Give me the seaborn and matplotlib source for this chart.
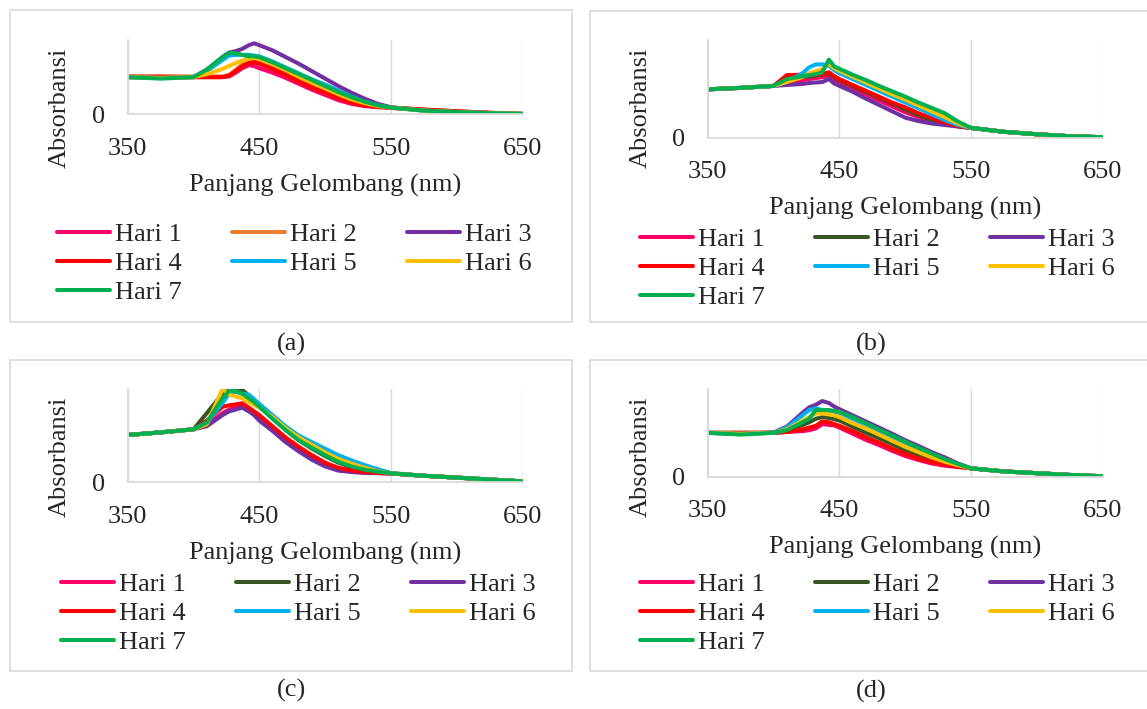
import matplotlib.pyplot as plt
import pandas as pd
import seaborn as sns
from matplotlib.patches import Rectangle

W, H = 1147, 709

# wavelength grid (nm) shared by all four panels
WAVELENGTH = [350, 375, 400, 410, 422, 427, 432, 437, 442, 446, 450, 460, 470,
              480, 490, 500, 510, 520, 530, 540, 550, 575, 600, 625, 650]
SERIES = ["Hari 1", "Hari 2", "Hari 3", "Hari 4", "Hari 5", "Hari 6", "Hari 7"]

# (a)
PANEL_A = {
    "Hari 1": [0.51, 0.51, 0.50, 0.50, 0.50, 0.51, 0.56, 0.62, 0.66, 0.65, 0.62, 0.56, 0.49,
               0.41, 0.33, 0.26, 0.19, 0.14, 0.11, 0.095, 0.085, 0.06, 0.04, 0.02, 0.005],
    "Hari 2": [0.51, 0.51, 0.51, 0.51, 0.51, 0.53, 0.60, 0.67, 0.71, 0.72, 0.70, 0.63, 0.55,
               0.46, 0.38, 0.30, 0.23, 0.17, 0.13, 0.105, 0.09, 0.06, 0.04, 0.02, 0.005],
    "Hari 3": [0.50, 0.49, 0.50, 0.60, 0.77, 0.83, 0.85, 0.88, 0.93, 0.955, 0.93, 0.86, 0.77,
               0.68, 0.58, 0.48, 0.38, 0.29, 0.21, 0.14, 0.095, 0.05, 0.03, 0.015, 0.005],
    "Hari 4": [0.50, 0.50, 0.50, 0.50, 0.50, 0.52, 0.58, 0.65, 0.69, 0.70, 0.68, 0.61, 0.53,
               0.44, 0.36, 0.29, 0.22, 0.16, 0.12, 0.10, 0.09, 0.065, 0.04, 0.02, 0.005],
    "Hari 5": [0.50, 0.49, 0.50, 0.58, 0.73, 0.79, 0.80, 0.80, 0.80, 0.79, 0.78, 0.71, 0.63,
               0.55, 0.47, 0.40, 0.32, 0.24, 0.17, 0.12, 0.09, 0.05, 0.03, 0.015, 0.005],
    "Hari 6": [0.50, 0.49, 0.50, 0.54, 0.61, 0.65, 0.69, 0.72, 0.75, 0.76, 0.75, 0.68, 0.60,
               0.51, 0.43, 0.35, 0.27, 0.20, 0.15, 0.11, 0.09, 0.05, 0.03, 0.015, 0.005],
    "Hari 7": [0.50, 0.48, 0.50, 0.60, 0.77, 0.83, 0.82, 0.80, 0.78, 0.78, 0.77, 0.70, 0.62,
               0.54, 0.46, 0.38, 0.30, 0.23, 0.17, 0.12, 0.09, 0.05, 0.03, 0.015, 0.005],
}

# (b)
PANEL_B = {
    "Hari 1": [0.495, 0.51, 0.53, 0.56, 0.59, 0.60, 0.61, 0.62, 0.63, 0.59, 0.56, 0.50, 0.44,
               0.38, 0.32, 0.26, 0.21, 0.17, 0.14, 0.115, 0.10, 0.06, 0.035, 0.015, 0.005],
    "Hari 2": [0.495, 0.51, 0.53, 0.59, 0.62, 0.63, 0.64, 0.645, 0.66, 0.62, 0.59, 0.53, 0.47,
               0.41, 0.35, 0.29, 0.23, 0.18, 0.145, 0.12, 0.10, 0.06, 0.035, 0.015, 0.005],
    "Hari 3": [0.495, 0.51, 0.53, 0.54, 0.55, 0.56, 0.565, 0.57, 0.60, 0.555, 0.53, 0.47, 0.40,
               0.335, 0.27, 0.205, 0.17, 0.145, 0.13, 0.115, 0.10, 0.06, 0.035, 0.015, 0.005],
    "Hari 4": [0.495, 0.51, 0.53, 0.64, 0.645, 0.645, 0.65, 0.65, 0.67, 0.63, 0.60, 0.54, 0.48,
               0.42, 0.36, 0.31, 0.25, 0.20, 0.155, 0.12, 0.10, 0.06, 0.035, 0.015, 0.005],
    "Hari 5": [0.495, 0.51, 0.53, 0.57, 0.66, 0.72, 0.75, 0.75, 0.74, 0.69, 0.66, 0.60, 0.54,
               0.48, 0.42, 0.36, 0.30, 0.24, 0.18, 0.13, 0.10, 0.06, 0.035, 0.015, 0.005],
    "Hari 6": [0.495, 0.51, 0.53, 0.57, 0.62, 0.66, 0.68, 0.70, 0.76, 0.71, 0.685, 0.625, 0.565,
               0.505, 0.445, 0.39, 0.33, 0.27, 0.21, 0.145, 0.10, 0.06, 0.035, 0.015, 0.005],
    "Hari 7": [0.495, 0.51, 0.53, 0.60, 0.63, 0.64, 0.65, 0.67, 0.80, 0.73, 0.705, 0.645, 0.59,
               0.53, 0.475, 0.42, 0.36, 0.305, 0.25, 0.165, 0.10, 0.06, 0.035, 0.015, 0.005],
}

# (c)
PANEL_C = {
    "Hari 1": [0.507, 0.535, 0.568, 0.62, 0.74, 0.78, 0.80, 0.82, 0.77, 0.73, 0.69, 0.57, 0.46,
               0.355, 0.26, 0.19, 0.14, 0.115, 0.105, 0.10, 0.095, 0.07, 0.05, 0.03, 0.01],
    "Hari 2": [0.507, 0.535, 0.568, 0.74, 0.95, 0.99, 0.99, 0.99, 0.93, 0.88, 0.83, 0.69, 0.56,
               0.45, 0.36, 0.28, 0.21, 0.16, 0.13, 0.11, 0.095, 0.07, 0.05, 0.03, 0.01],
    "Hari 3": [0.507, 0.535, 0.568, 0.60, 0.72, 0.76, 0.78, 0.80, 0.76, 0.72, 0.66, 0.55, 0.43,
               0.33, 0.24, 0.17, 0.125, 0.11, 0.10, 0.098, 0.095, 0.07, 0.05, 0.03, 0.01],
    "Hari 4": [0.507, 0.535, 0.568, 0.66, 0.81, 0.825, 0.835, 0.847, 0.80, 0.76, 0.72, 0.60, 0.48,
               0.38, 0.29, 0.21, 0.155, 0.125, 0.11, 0.10, 0.095, 0.07, 0.05, 0.03, 0.01],
    "Hari 5": [0.507, 0.535, 0.568, 0.64, 0.85, 0.95, 0.97, 0.95, 0.94, 0.89, 0.84, 0.72, 0.60,
               0.50, 0.43, 0.36, 0.29, 0.235, 0.185, 0.14, 0.10, 0.07, 0.05, 0.03, 0.01],
    "Hari 6": [0.507, 0.535, 0.568, 0.62, 1.00, 0.94, 0.92, 0.90, 0.86, 0.83, 0.80, 0.70, 0.58,
               0.48, 0.40, 0.32, 0.25, 0.20, 0.155, 0.12, 0.096, 0.07, 0.05, 0.03, 0.01],
    "Hari 7": [0.507, 0.535, 0.568, 0.64, 0.90, 0.98, 0.98, 0.95, 0.90, 0.86, 0.81, 0.68, 0.56,
               0.45, 0.37, 0.29, 0.22, 0.17, 0.135, 0.115, 0.096, 0.07, 0.05, 0.03, 0.01],
}

# (d)
PANEL_D = {
    "Hari 1": [0.50, 0.50, 0.50, 0.51, 0.52, 0.53, 0.55, 0.60, 0.59, 0.585, 0.56, 0.49, 0.42,
               0.36, 0.295, 0.235, 0.19, 0.15, 0.125, 0.11, 0.095, 0.06, 0.04, 0.02, 0.005],
    "Hari 2": [0.50, 0.50, 0.50, 0.53, 0.59, 0.62, 0.66, 0.68, 0.67, 0.655, 0.64, 0.57, 0.50,
               0.44, 0.37, 0.30, 0.24, 0.19, 0.15, 0.12, 0.095, 0.06, 0.04, 0.02, 0.005],
    "Hari 3": [0.50, 0.49, 0.505, 0.57, 0.73, 0.79, 0.82, 0.863, 0.84, 0.80, 0.77, 0.70, 0.63,
               0.56, 0.49, 0.415, 0.35, 0.28, 0.22, 0.15, 0.095, 0.06, 0.04, 0.02, 0.005],
    "Hari 4": [0.50, 0.50, 0.50, 0.51, 0.54, 0.56, 0.58, 0.63, 0.62, 0.60, 0.58, 0.52, 0.45,
               0.39, 0.32, 0.26, 0.21, 0.17, 0.14, 0.115, 0.095, 0.06, 0.04, 0.02, 0.005],
    "Hari 5": [0.50, 0.49, 0.50, 0.56, 0.70, 0.76, 0.78, 0.76, 0.75, 0.74, 0.73, 0.66, 0.59,
               0.52, 0.45, 0.38, 0.31, 0.25, 0.19, 0.14, 0.095, 0.06, 0.04, 0.02, 0.005],
    "Hari 6": [0.50, 0.49, 0.50, 0.54, 0.64, 0.68, 0.72, 0.72, 0.71, 0.70, 0.68, 0.61, 0.55,
               0.48, 0.41, 0.34, 0.28, 0.22, 0.17, 0.13, 0.095, 0.06, 0.04, 0.02, 0.005],
    "Hari 7": [0.50, 0.48, 0.50, 0.53, 0.62, 0.66, 0.76, 0.76, 0.76, 0.75, 0.74, 0.68, 0.61,
               0.54, 0.47, 0.40, 0.33, 0.265, 0.20, 0.145, 0.095, 0.06, 0.04, 0.02, 0.005],
}

COLORS_A = ["#FF0066", "#ED7D31", "#7030A0", "#FF0000", "#00B0F0", "#FFC000", "#00B050"]
COLORS_BCD = ["#FF0066", "#375623", "#7030A0", "#FF0000", "#00B0F0", "#FFC000", "#00B050"]

GRID = "#D9D9D9"
FS = 19


def fig_rect(x0, y0, x1, y1):
    # pixel box (top-left origin) -> figure fraction [l, b, w, h]
    return [x0 / W, 1 - y1 / H, (x1 - x0) / W, (y1 - y0) / H]


def draw_panel(fig, data, colors, box, axes_px, legend_xy, ylab_xy, caption_y, caption):
    bx0, by0, bx1, by1 = box
    fig.add_artist(Rectangle((bx0 / W, 1 - by1 / H), (bx1 - bx0) / W, (by1 - by0) / H,
                             transform=fig.transFigure, fill=False,
                             edgecolor=GRID, linewidth=1.2))

    ax = fig.add_axes(fig_rect(*axes_px))
    df = pd.DataFrame({"wl": WAVELENGTH * len(SERIES),
                       "abs": [v for s in SERIES for v in data[s]],
                       "hari": [s for s in SERIES for _ in WAVELENGTH]})
    sns.lineplot(data=df, x="wl", y="abs", hue="hari", hue_order=SERIES,
                 palette=dict(zip(SERIES, colors)), linewidth=2.9,
                 errorbar=None, ax=ax)

    ax.set_xlim(350, 650)
    ax.set_ylim(0, 1)
    ax.set_xticks([350, 450, 550, 650])
    ax.set_yticks([0])
    ax.set_yticklabels(["0"])
    ax.grid(axis="x", color=GRID, linewidth=1.0)
    ax.grid(axis="y", visible=False)
    ax.tick_params(axis="both", length=0, labelsize=FS)
    ax.tick_params(axis="x", pad=17)
    ax.tick_params(axis="y", pad=16)
    for side in ("top", "right"):
        ax.spines[side].set_visible(False)
    for side in ("left", "bottom"):
        ax.spines[side].set_color(GRID)
        ax.spines[side].set_linewidth(1.3)
    ax.set_xlabel("")
    ax.set_ylabel("")

    x0, y0, x1, y1 = axes_px
    fig.text(((x0 + x1) / 2) / W, 1 - (y1 + 71) / H, "Panjang Gelombang (nm)",
             ha="center", va="center", fontsize=FS)
    fig.text(ylab_xy[0] / W, 1 - ylab_xy[1] / H, "Absorbansi", rotation=90,
             ha="center", va="center", fontsize=FS)
    fig.text(((bx0 + bx1) / 2) / W, 1 - caption_y / H, caption,
             ha="center", va="center", fontsize=FS)

    # legend laid out row by row like the original (matplotlib fills by column)
    handles, labels = ax.get_legend_handles_labels()
    ax.get_legend().remove()
    order = [0, 3, 6, 1, 4, 2, 5]
    ax.legend([handles[i] for i in order], [labels[i] for i in order], ncol=3,
              loc="upper left", bbox_to_anchor=(legend_xy[0] / W, 1 - legend_xy[1] / H),
              bbox_transform=fig.transFigure, frameon=False, fontsize=FS,
              handlelength=2.0, handletextpad=0.2, columnspacing=1.91,
              labelspacing=0.2, borderpad=0, borderaxespad=0)
    return ax


sns.set_style("white")
plt.rcParams["font.family"] = ["Liberation Serif", "DejaVu Serif"]

fig = plt.figure(figsize=(W / 100, H / 100), dpi=100)

panels = [
    (PANEL_A, COLORS_A, (10, 10, 572, 322), (127.7, 40, 522.7, 114.3), (57, 223), (60, 108), 344, "(a)"),
    (PANEL_B, COLORS_BCD, (589.5, 10.5, 1153, 322), (707.7, 40, 1103, 137.7), (640, 228), (641, 108), 344, "(b)"),
    (PANEL_C, COLORS_A[:1] + COLORS_BCD[1:], (10, 360, 572, 671), (127.7, 389, 522.7, 482.3), (61, 573), (60, 457), 690, "(c)"),
    (PANEL_D, COLORS_BCD, (589.5, 360, 1153, 671), (707.7, 389, 1103, 476.7), (640, 573), (641, 457), 691, "(d)"),
]

for data, colors, box, axes_px, leg, ylab, cap_y, caption in panels:
    draw_panel(fig, data, colors, box, axes_px, leg, ylab, cap_y, caption)

fig.savefig("out.png", dpi=100, facecolor="white")
